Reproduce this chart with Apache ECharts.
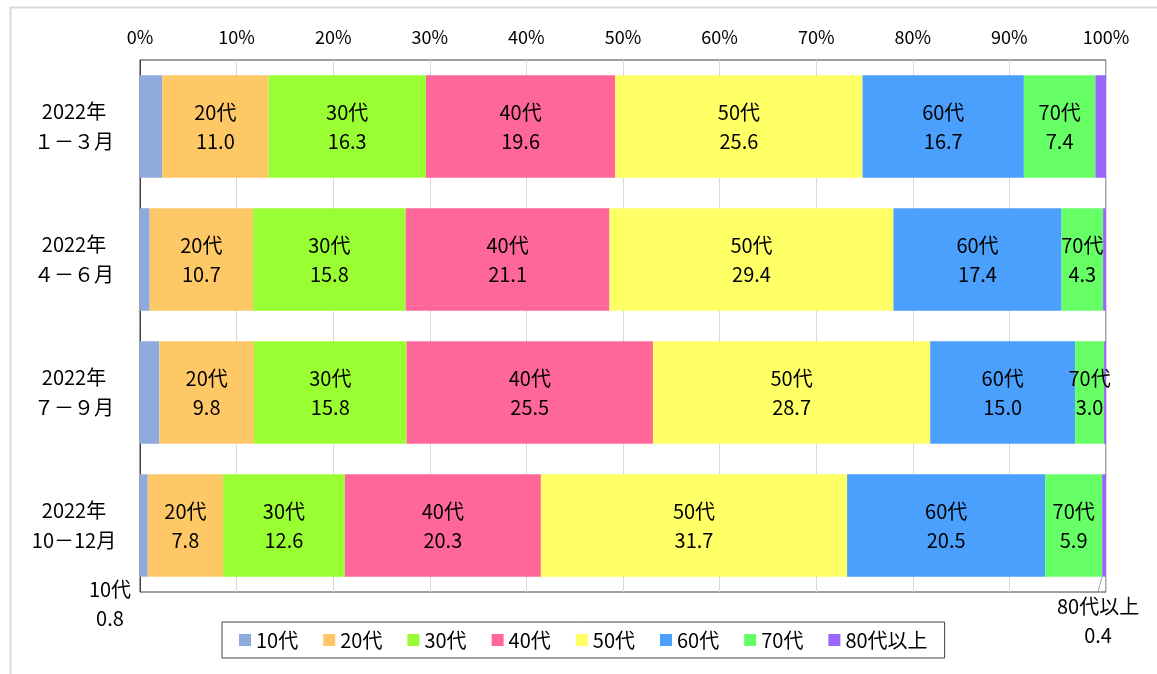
<!DOCTYPE html>
<html>
<head>
<meta charset="utf-8">
<script src="https://cdn.jsdelivr.net/npm/echarts@6/dist/echarts.min.js"></script>
<style>
html,body{margin:0;padding:0;background:#fff;}
#chart{width:1157px;height:674px;}
</style>
</head>
<body>
<div id="chart"></div>
<script>
// ---- data ----
const categories = ['2022年\n１－３月', '2022年\n４－６月', '2022年\n７－９月', '2022年\n10－12月'];
const seriesNames = ['10代', '20代', '30代', '40代', '50代', '60代', '70代', '80代以上'];
const v10 = [2.3, 1.0, 2.0, 0.8];
const v20 = [11.0, 10.7, 9.8, 7.8];
const v30 = [16.3, 15.8, 15.8, 12.6];
const v40 = [19.6, 21.1, 25.5, 20.3];
const v50 = [25.6, 29.4, 28.7, 31.7];
const v60 = [16.7, 17.4, 15.0, 20.5];
const v70 = [7.4, 4.3, 3.0, 5.9];
const v80 = [1.1, 0.3, 0.2, 0.4];
const xMin = 0, xMax = 100, xStep = 10;

const values = [v10, v20, v30, v40, v50, v60, v70, v80];
const colors = ['#8faadc', '#ffc866', '#99ff33', '#ff6699', '#ffff66', '#4aa0fc', '#66ff66', '#9966ff'];
const FONT = '"Noto Sans CJK JP", "Noto Sans", sans-serif';

const chart = echarts.init(document.getElementById('chart'), null, {renderer: 'canvas'});

const series = seriesNames.map((name, i) => {
  const isSmall = (i === 0 || i === 7);
  const data = values[i].map((v, j) => {
    const item = {value: v};
    if (isSmall) {
      if (j < 3) {
        item.label = {show: false};
      } else if (i === 0) {
        item.label = {show: true, position: [-30, 101], align: 'center', verticalAlign: 'top'};
      }
    }
    return item;
  });
  const s = {
    name: name,
    type: 'bar',
    stack: 'total',
    barWidth: '77%',
    data: data,
    itemStyle: {color: colors[i]},
    label: {
      show: true,
      position: 'inside',
      formatter: p => p.seriesName + '\n' + Number(p.value).toFixed(1),
      color: '#000',
      fontSize: 20,
      lineHeight: 29,
      fontFamily: FONT
    }
  };
  if (i === 7) {
    s.labelLayout = p => (p.dataIndex === 3 ? {dx: -6, dy: 95} : {});
    s.labelLine = {show: true, lineStyle: {color: '#a6a6a6', width: 1}};
  }
  return s;
});

const option = {
  animation: false,
  backgroundColor: '#fff',
  graphic: [{
    type: 'rect', left: 8, top: 5,
    shape: {width: 1170, height: 690},
    style: {fill: 'none', stroke: '#d9d9d9', lineWidth: 2},
    silent: true, z: -10
  }],
  grid: {
    left: 140, right: 51, top: 60, bottom: 82,
    show: true, borderColor: '#404040', borderWidth: 1,
    backgroundColor: 'transparent'
  },
  legend: {
    data: seriesNames,
    left: 222,
    top: 622,
    icon: 'rect',
    itemWidth: 12,
    itemHeight: 12,
    itemGap: 25,
    padding: [8, 17, 8, 17],
    borderColor: '#404040',
    borderWidth: 1,
    textStyle: {fontSize: 20, color: '#000', fontFamily: FONT}
  },
  xAxis: {
    type: 'value',
    position: 'top',
    min: xMin, max: xMax, interval: xStep,
    axisLine: {show: false},
    axisTick: {show: false},
    axisLabel: {formatter: '{value}%', fontSize: 18, color: '#000', margin: 14, fontFamily: FONT},
    splitLine: {show: true, lineStyle: {color: '#d9d9d9', width: 1}}
  },
  yAxis: {
    type: 'category',
    data: categories,
    inverse: true,
    axisLine: {show: true, lineStyle: {color: '#404040'}},
    axisTick: {show: false},
    axisLabel: {fontSize: 20, color: '#000', lineHeight: 30, align: 'center', margin: 66, fontFamily: FONT}
  },
  series: series
};
chart.setOption(option);
</script>
</body>
</html>
